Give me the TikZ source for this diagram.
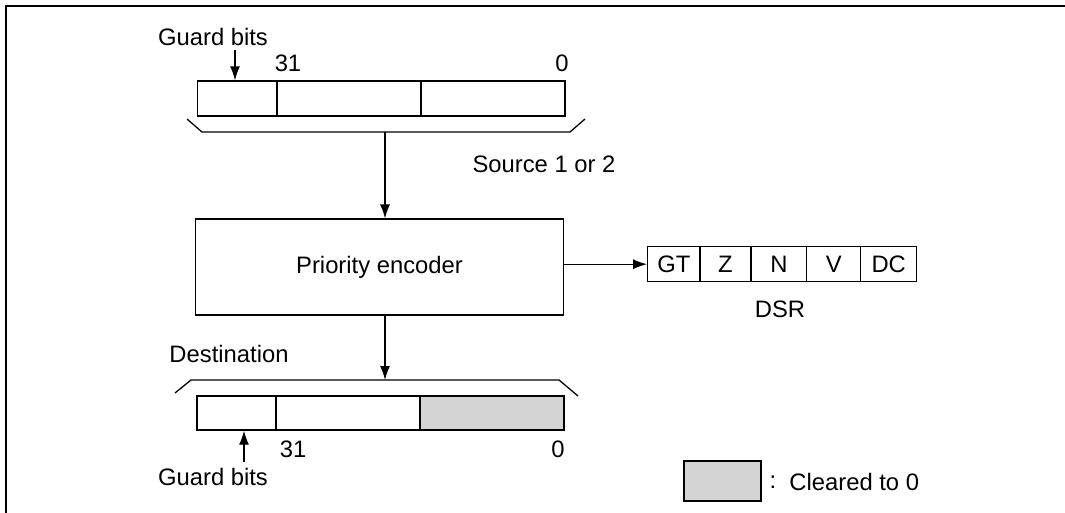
\documentclass[tikz,border=0pt]{standalone}
\usepackage{fontspec}
\setmainfont{Liberation Sans}
\usetikzlibrary{arrows.meta}
\definecolor{clr}{RGB}{212,212,212}
\begin{document}
\begin{tikzpicture}[x=0.5pt,y=-0.5pt,
  every node/.style={font=\fontsize{11.9}{14}\selectfont},
  lbl/.style={inner sep=0pt},
  cell/.style={draw,line width=0.65pt,inner sep=0pt},
  ln/.style={line width=0.65pt},
  arr/.style={line width=0.65pt,-{Latex[length=7pt,width=5pt]}}]
\useasboundingbox (0,0) rectangle (1065,513);
% frame
\draw[line width=1.2pt] (6,513) -- (6,6) -- (1065,6);
% top register
\node[cell,minimum width=39.75pt,minimum height=17.5pt] (t1) at (237.25,98.5) {};
\node[cell,minimum width=72pt,minimum height=17.5pt] (t2) at (349,98.5) {};
\node[cell,minimum width=72pt,minimum height=17.5pt] (t3) at (493,98.5) {};
\node[lbl] (tg) at (213,37) {Guard bits};
\coordinate (ga) at (235,50);
\draw[arr] (ga) -- (ga |- t1.north);
\node[lbl] (t31) at (288,63) {31};
\node[lbl] (t0) at (562,63) {0};
% top bracket
\coordinate (tb1) at (187,119);
\coordinate (tb2) at (202,132);
\coordinate (tb3) at (570,132);
\coordinate (tb4) at (585,119);
\draw[ln] (tb1) -- (tb2) -- (tb3) -- (tb4);
\coordinate (tbm) at (385,132);
\node[lbl] (src) at (544,164) {Source 1 or 2};
% priority encoder
\node[cell,minimum width=183.8pt,minimum height=47.85pt] (prio) at (379.5,267) {Priority encoder};
\draw[arr] (tbm) -- (tbm |- prio.north);
% DSR
\node[cell,minimum width=26.15pt,minimum height=17.5pt] (gt) at (673.85,264.2) {GT};
\node[cell,minimum width=25.5pt,minimum height=17.5pt] (z) at (725.5,264.2) {Z};
\node[cell,minimum width=27.85pt,minimum height=17.5pt] (n) at (778.85,264.2) {N};
\node[cell,minimum width=27pt,minimum height=17.5pt] (v) at (833.7,264.2) {V};
\node[cell,minimum width=28pt,minimum height=17.5pt] (dc) at (888.7,264.2) {DC};
\node[lbl] (dsr) at (780,309) {DSR};
\draw[arr] (prio.east |- gt.west) -- (gt.west);
% bottom bracket
\coordinate (bb1) at (175,393);
\coordinate (bb2) at (191,380);
\coordinate (bb3) at (559,380);
\coordinate (bb4) at (578,396);
\draw[ln] (bb1) -- (bb2) -- (bb3) -- (bb4);
\coordinate (bbm) at (385,380);
\draw[arr] (bbm |- prio.south) -- (bbm);
\node[lbl] (dest) at (229,354) {Destination};
% bottom register
\node[cell,minimum width=39.5pt,minimum height=17pt] (b1) at (236.5,413) {};
\node[cell,minimum width=72pt,minimum height=17pt] (b2) at (348,413) {};
\node[cell,fill=clr,minimum width=72pt,minimum height=17pt] (b3) at (492,413) {};
\coordinate (gb) at (244,462);
\draw[arr] (gb) -- (gb |- b1.south);
\node[lbl] (bg) at (213,477) {Guard bits};
\node[lbl] (b31) at (293,449) {31};
\node[lbl] (b0) at (558,449) {0};
% legend
\node[cell,fill=clr,minimum width=38.5pt,minimum height=20pt] (leg) at (722.5,481) {};
\node[lbl] (colon) at (773,482) {:};
\node[lbl,anchor=west] (cl) at (789,482) {Cleared to 0};
\end{tikzpicture}
\end{document}
